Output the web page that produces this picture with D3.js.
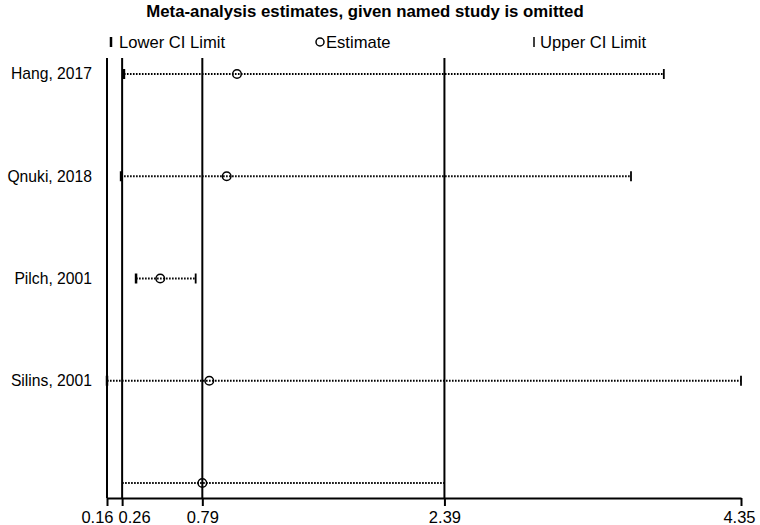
<!DOCTYPE html>
<html>
<head>
<meta charset="utf-8">
<script src="https://cdn.jsdelivr.net/npm/d3@7"></script>
<style>
  body { margin: 0; background: #fff; }
  text { font-family: "Liberation Sans", Arial, sans-serif; fill: #000; }
</style>
</head>
<body>
<svg id="chart" width="760" height="525"></svg>
<script>
// values
const studies = ["Hang, 2017", "Qnuki, 2018", "Pilch, 2001", "Silins, 2001", ""];
const lower    = [0.272, 0.253, 0.352, 0.16, 0.26];
const estimate = [1.019, 0.951, 0.512, 0.836, 0.79];
const upper    = [3.84, 3.623, 0.746, 4.35, 2.39];
const tickVals = [0.16, 0.26, 0.79, 2.39, 4.35];
const refLines = [0.16, 0.26, 0.79, 2.39];

const svg = d3.select("#chart");
const x = d3.scaleLinear().domain([0.16, 4.35]).range([107, 741]);
const y = d3.scaleLinear().domain([0, 4]).range([74, 483]);
const axisY = 498, topY = 58;

// title
svg.append("text")
  .attr("x", 365).attr("y", 17)
  .attr("text-anchor", "middle")
  .attr("font-size", "16.8px").attr("font-weight", "bold")
  .text("Meta-analysis estimates, given named study is omitted");

// legend
const leg = svg.append("g").attr("font-size", "16.6px");
leg.append("line").attr("x1", 111).attr("x2", 111).attr("y1", 37).attr("y2", 47)
  .attr("stroke", "#000").attr("stroke-width", 2.5);
leg.append("text").attr("x", 119).attr("y", 47.5).text("Lower CI Limit");
leg.append("circle").attr("cx", 320).attr("cy", 42).attr("r", 4)
  .attr("fill", "none").attr("stroke", "#000").attr("stroke-width", 1.5);
leg.append("text").attr("x", 326).attr("y", 47.5).text("Estimate");
leg.append("line").attr("x1", 534).attr("x2", 534).attr("y1", 37).attr("y2", 47)
  .attr("stroke", "#000").attr("stroke-width", 1.5);
leg.append("text").attr("x", 540).attr("y", 47.5).text("Upper CI Limit");

// reference vertical lines
svg.append("g").selectAll("line").data(refLines).join("line")
  .attr("x1", d => x(d)).attr("x2", d => x(d))
  .attr("y1", topY).attr("y2", axisY)
  .attr("stroke", "#000").attr("stroke-width", 2);

// x axis
const xAxis = d3.axisBottom(x).tickValues(tickVals).tickSize(8).tickSizeOuter(0)
  .tickFormat(d3.format(".2f"));
const ax = svg.append("g").attr("transform", `translate(0,${axisY})`).call(xAxis);
ax.select(".domain").attr("stroke-width", 2);
ax.selectAll(".tick line").attr("stroke-width", 2);
ax.selectAll(".tick text").attr("font-size", "16.5px").attr("dy", "0.85em")
  .attr("font-family", "Liberation Sans, Arial, sans-serif");
ax.selectAll(".tick text").filter(d => d === 0.16).attr("dx", "-10px");
ax.selectAll(".tick text").filter(d => d === 0.26).attr("dx", "12px");
ax.selectAll(".tick text").filter(d => d === 4.35).attr("dx", "-2px");

// study rows
const rows = svg.append("g").selectAll("g").data(studies).join("g");
rows.append("text")
  .attr("x", 92).attr("y", (d, i) => y(i)).attr("dy", "0.35em")
  .attr("text-anchor", "end").attr("font-size", "15.7px")
  .text(d => d);
rows.append("line")
  .attr("x1", (d, i) => x(lower[i])).attr("x2", (d, i) => x(upper[i]))
  .attr("y1", (d, i) => y(i)).attr("y2", (d, i) => y(i))
  .attr("stroke", "#000").attr("stroke-width", 2)
  .attr("stroke-dasharray", "1.6,1.4");
rows.filter((d, i) => i < 4).append("line")
  .attr("x1", (d, i) => x(lower[i])).attr("x2", (d, i) => x(lower[i]))
  .attr("y1", (d, i) => y(i) - 5).attr("y2", (d, i) => y(i) + 5)
  .attr("stroke", "#000").attr("stroke-width", 2.5);
rows.filter((d, i) => i < 4).append("line")
  .attr("x1", (d, i) => x(upper[i])).attr("x2", (d, i) => x(upper[i]))
  .attr("y1", (d, i) => y(i) - 5).attr("y2", (d, i) => y(i) + 5)
  .attr("stroke", "#000").attr("stroke-width", 1.8);
rows.append("circle")
  .attr("cx", (d, i) => x(estimate[i])).attr("cy", (d, i) => y(i)).attr("r", 4.3)
  .attr("fill", "none").attr("stroke", "#000").attr("stroke-width", 1.5);
</script>
</body>
</html>
